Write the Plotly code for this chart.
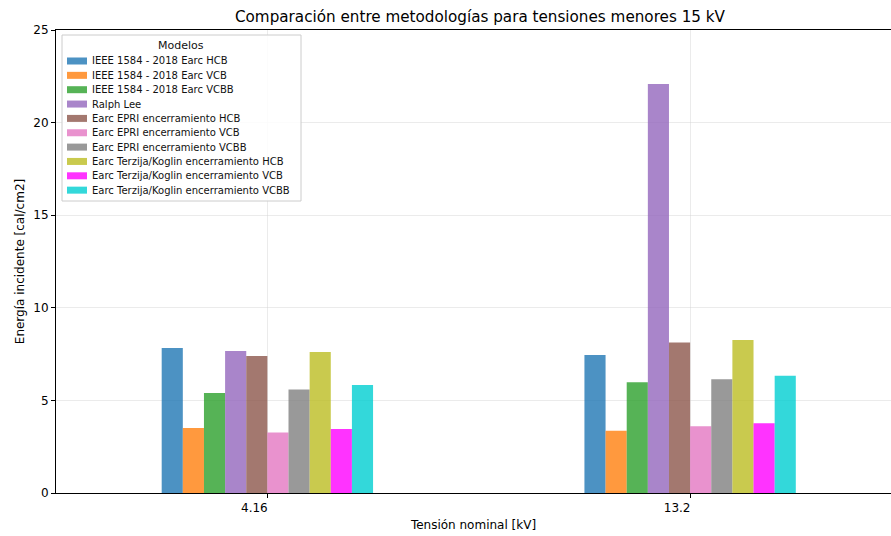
import plotly.graph_objects as go

categories = ["4.16", "13.2"]
series_names = [
    "IEEE 1584 - 2018 Earc HCB",
    "IEEE 1584 - 2018 Earc VCB",
    "IEEE 1584 - 2018 Earc VCBB",
    "Ralph Lee",
    "Earc EPRI encerramiento HCB",
    "Earc EPRI encerramiento VCB",
    "Earc EPRI encerramiento VCBB",
    "Earc Terzija/Koglin encerramiento HCB",
    "Earc Terzija/Koglin encerramiento VCB",
    "Earc Terzija/Koglin encerramiento VCBB",
]
values = [
    [7.83, 7.45],
    [3.51, 3.36],
    [5.40, 5.98],
    [7.67, 22.08],
    [7.40, 8.12],
    [3.27, 3.60],
    [5.59, 6.14],
    [7.61, 8.26],
    [3.46, 3.76],
    [5.83, 6.33],
]
colors = ["#1f77b4", "#ff7f0e", "#2ca02c", "#9467bd", "#8c564b",
          "#e377c2", "#7f7f7f", "#bcbd22", "#ff00ff", "#00ced1"]
y_ticks = [0, 5, 10, 15, 20, 25]

W, H = 891, 536
ML, MR, MT, MB = 56, 0, 30, 43
PW, PH = W - ML - MR, H - MT - MB


def px_x(p):
    return (p - ML) / PW


def px_y(p):
    return (H - MB - p) / PH


fig = go.Figure()
for name, vals, col in zip(series_names, values, colors):
    fig.add_trace(go.Bar(x=categories, y=vals, name=name, marker_color=col,
                         opacity=0.8, marker_line_width=0, showlegend=False))

font = "DejaVu Sans"

# legend drawn as a box with patches and labels (matplotlib style)
shapes = [dict(type="rect", xref="paper", yref="paper", layer="above",
               x0=px_x(62), x1=px_x(301), y0=px_y(201), y1=px_y(35),
               fillcolor="rgba(255,255,255,0.85)",
               line=dict(color="#cccccc", width=1))]
annotations = [dict(text="Modelos", xref="paper", yref="paper",
                    x=px_x(181), y=px_y(45.5), xanchor="center", yanchor="middle",
                    showarrow=False, font=dict(family=font, size=11, color="#111"))]
for i, (name, col) in enumerate(zip(series_names, colors)):
    yc = 61 + 14.35 * i
    shapes.append(dict(type="rect", xref="paper", yref="paper", layer="above",
                       x0=px_x(67), x1=px_x(87), y0=px_y(yc + 3.5), y1=px_y(yc - 3.5),
                       fillcolor=col, opacity=0.8, line=dict(width=0)))
    annotations.append(dict(text=name, xref="paper", yref="paper",
                            x=px_x(90), y=px_y(yc), xanchor="left", yanchor="middle",
                            showarrow=False,
                            font=dict(family=font, size=10, color="#111")))

fig.update_layout(
    width=W, height=H,
    margin=dict(l=ML, r=MR, t=MT, b=MB, autoexpand=False),
    plot_bgcolor="white", paper_bgcolor="white",
    barmode="group", bargap=0.5, bargroupgap=0,
    font=dict(family=font, size=12, color="black"),
    title=dict(text="Comparación entre metodologías para tensiones menores 15 kV",
               xref="container", x=0.5387, xanchor="center",
               yref="container", y=1 - 16.5 / H, yanchor="middle",
               font=dict(size=15.2, color="black")),
    showlegend=False,
    shapes=shapes,
    annotations=annotations,
)
fig.update_xaxes(
    type="category", range=[-0.5, (891 - 267) / 423 - 0.5 + 0.5],
    automargin=False,
    showline=True, linecolor="black", linewidth=1, mirror=True,
    ticks="outside", ticklen=4, tickcolor="black",
    showgrid=True, gridcolor="rgba(210,210,210,0.45)", gridwidth=1,
    title=dict(text="Tensión nominal [kV]", font=dict(size=12), standoff=6),
    tickfont=dict(size=12), ticklabelshift=-13,
)
fig.update_yaxes(
    range=[0, 25], tickvals=y_ticks,
    automargin=False,
    showline=True, linecolor="black", linewidth=1, mirror=False,
    ticks="outside", ticklen=4, tickcolor="black",
    showgrid=True, gridcolor="rgba(210,210,210,0.45)", gridwidth=1,
    zeroline=False,
    title=dict(text="Energía incidente [cal/cm2]", font=dict(size=12), standoff=6),
    tickfont=dict(size=12),
)
fig.write_html("out.html", config={"displayModeBar": False},
               post_script="document.body.style.margin='0';")
